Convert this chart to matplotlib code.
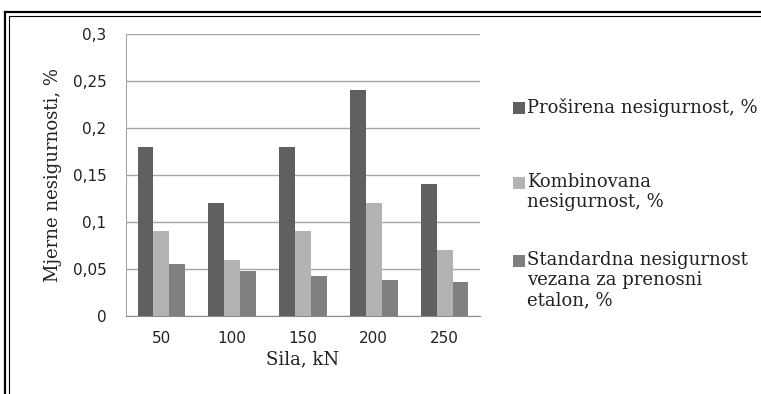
import matplotlib
matplotlib.use("Agg")
import matplotlib.pyplot as plt
import numpy as np
from matplotlib.lines import Line2D
from matplotlib.patches import Rectangle

categories = ["50", "100", "150", "200", "250"]
prosirena = [0.18, 0.12, 0.18, 0.24, 0.14]
kombinovana = [0.09, 0.06, 0.09, 0.12, 0.07]
standardna = [0.055, 0.048, 0.043, 0.038, 0.036]
series_names = ["Proširena nesigurnost, %",
                "Kombinovana\nnesigurnost, %",
                "Standardna nesigurnost\nvezana za prenosni\netalon, %"]
series_values = [prosirena, kombinovana, standardna]
colors = ["#606060", "#b3b3b3", "#808080"]
yticks = [0, 0.05, 0.1, 0.15, 0.2, 0.25, 0.3]
ytick_labels = ["0", "0,05", "0,1", "0,15", "0,2", "0,25", "0,3"]

W, H = 761, 394
fig = plt.figure(figsize=(W / 100, H / 100), dpi=100)
fig.patch.set_facecolor("white")
ax = fig.add_axes([126 / W, 1 - 316 / H, (480 - 126) / W, (316 - 34) / H])

x = np.arange(len(categories))
bw = 0.225
for i, (vals, col) in enumerate(zip(series_values, colors)):
    ax.bar(x + (i - 1) * bw, vals, width=bw, color=col, edgecolor="none", zorder=3)

ax.set_xlim(-0.5, len(categories) - 0.5)
ax.set_ylim(0, 0.3)
ax.set_yticks(yticks)
ax.set_yticklabels(ytick_labels)
ax.set_xticks(x)
ax.set_xticklabels(categories)
ax.yaxis.grid(True, color="#a6a6a6", linewidth=1.0, zorder=0)
ax.set_axisbelow(True)
for s in ["top", "right"]:
    ax.spines[s].set_visible(False)
ax.spines["left"].set_color("#a6a6a6")
ax.spines["bottom"].set_color("#8c8c8c")
ax.tick_params(axis="both", length=0, labelsize=11, labelcolor="#222222")
ax.tick_params(axis="y", pad=14)
ax.tick_params(axis="x", pad=11)
for lab in ax.get_xticklabels() + ax.get_yticklabels():
    lab.set_family("DejaVu Sans")

ax.set_xlabel("Sila, kN", family="DejaVu Serif", fontsize=13, labelpad=3, color="#222222")
ax.set_ylabel("Mjerne nesigurnosti, %", family="DejaVu Serif", fontsize=13, labelpad=8, color="#222222")

# legend drawn manually (markers aligned to first text line)
cap_tops = [102, 177, 255]
for name, col, yy in zip(series_names, colors, cap_tops):
    fig.patches.append(Rectangle((513 / W, 1 - (yy + 12) / H), 12 / W, 12 / H,
                                 transform=fig.transFigure, facecolor=col, edgecolor="none"))
    fig.text(527 / W, 1 - (yy - 4) / H, name, family="DejaVu Serif", fontsize=13,
             va="top", ha="left", color="#222222", linespacing=1.15)

# double frame on left and top
fig.add_artist(Line2D([5 / W, 5 / W], [0, 1 - 12 / H], transform=fig.transFigure, color="black", linewidth=1.6))
fig.add_artist(Line2D([8.5 / W, 8.5 / W], [0, 1 - 15.5 / H], transform=fig.transFigure, color="black", linewidth=0.8))
fig.add_artist(Line2D([5 / W, 1], [1 - 12 / H, 1 - 12 / H], transform=fig.transFigure, color="black", linewidth=1.6))
fig.add_artist(Line2D([8.5 / W, 1], [1 - 15.5 / H, 1 - 15.5 / H], transform=fig.transFigure, color="black", linewidth=0.8))

fig.savefig("out.png", dpi=100)
